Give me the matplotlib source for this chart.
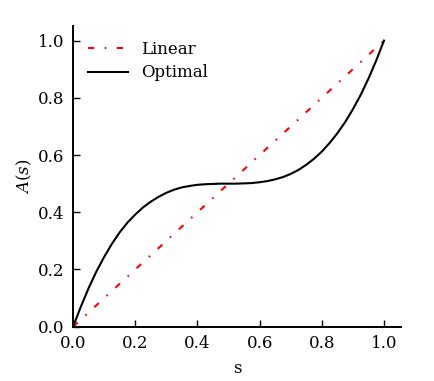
import numpy as np
import matplotlib.pyplot as plt

plt.rcParams['font.family'] = 'DejaVu Serif'
plt.rcParams['mathtext.fontset'] = 'dejavuserif'
plt.rcParams['font.size'] = 12

# --- data ---
s_linear = [0.0, 1.0]
a_linear = [0.0, 1.0]

s_opt = [0.0, 0.025, 0.05, 0.075, 0.1, 0.125, 0.15, 0.175, 0.2, 0.225,
         0.25, 0.275, 0.3, 0.325, 0.35, 0.375, 0.4, 0.425, 0.45, 0.475,
         0.5, 0.525, 0.55, 0.575, 0.6, 0.625, 0.65, 0.675, 0.7, 0.725,
         0.75, 0.775, 0.8, 0.825, 0.85, 0.875, 0.9, 0.925, 0.95, 0.975, 1.0]
a_opt = [0.000, 0.070, 0.135, 0.193, 0.244, 0.290, 0.330, 0.364, 0.392, 0.417,
         0.437, 0.454, 0.468, 0.479, 0.487, 0.492, 0.496, 0.498, 0.499, 0.500,
         0.500, 0.500, 0.501, 0.502, 0.505, 0.509, 0.515, 0.523, 0.534, 0.548,
         0.566, 0.587, 0.612, 0.642, 0.676, 0.715, 0.760, 0.810, 0.867, 0.930, 1.0]

fig = plt.figure(figsize=(4.35, 3.81), dpi=100)
ax = fig.add_axes([0.168, 0.1425, 0.754, 0.79])

ax.plot(s_linear, a_linear, color='red', lw=1.5,
        linestyle=(0, (3, 5, 0.8, 5)), label='Linear')
ax.plot(s_opt, a_opt, color='black', lw=1.5, label='Optimal')

ax.set_xlim(0, 1.055)
ax.set_ylim(0, 1.052)
ax.set_xticks([0.0, 0.2, 0.4, 0.6, 0.8, 1.0])
ax.set_yticks([0.0, 0.2, 0.4, 0.6, 0.8, 1.0])
ax.set_xlabel('s', labelpad=6)
ax.set_ylabel('$A(s)$', labelpad=3)

for side in ['top', 'right']:
    ax.spines[side].set_visible(False)
for side in ['left', 'bottom']:
    ax.spines[side].set_linewidth(1.4)
ax.tick_params(direction='in', length=5, width=1.0, top=False, right=False, pad=6)

ax.legend(loc='upper left', frameon=False, handlelength=2.4,
          bbox_to_anchor=(0.0, 1.0), labelspacing=0.4)

fig.savefig('out.png', dpi=100)
